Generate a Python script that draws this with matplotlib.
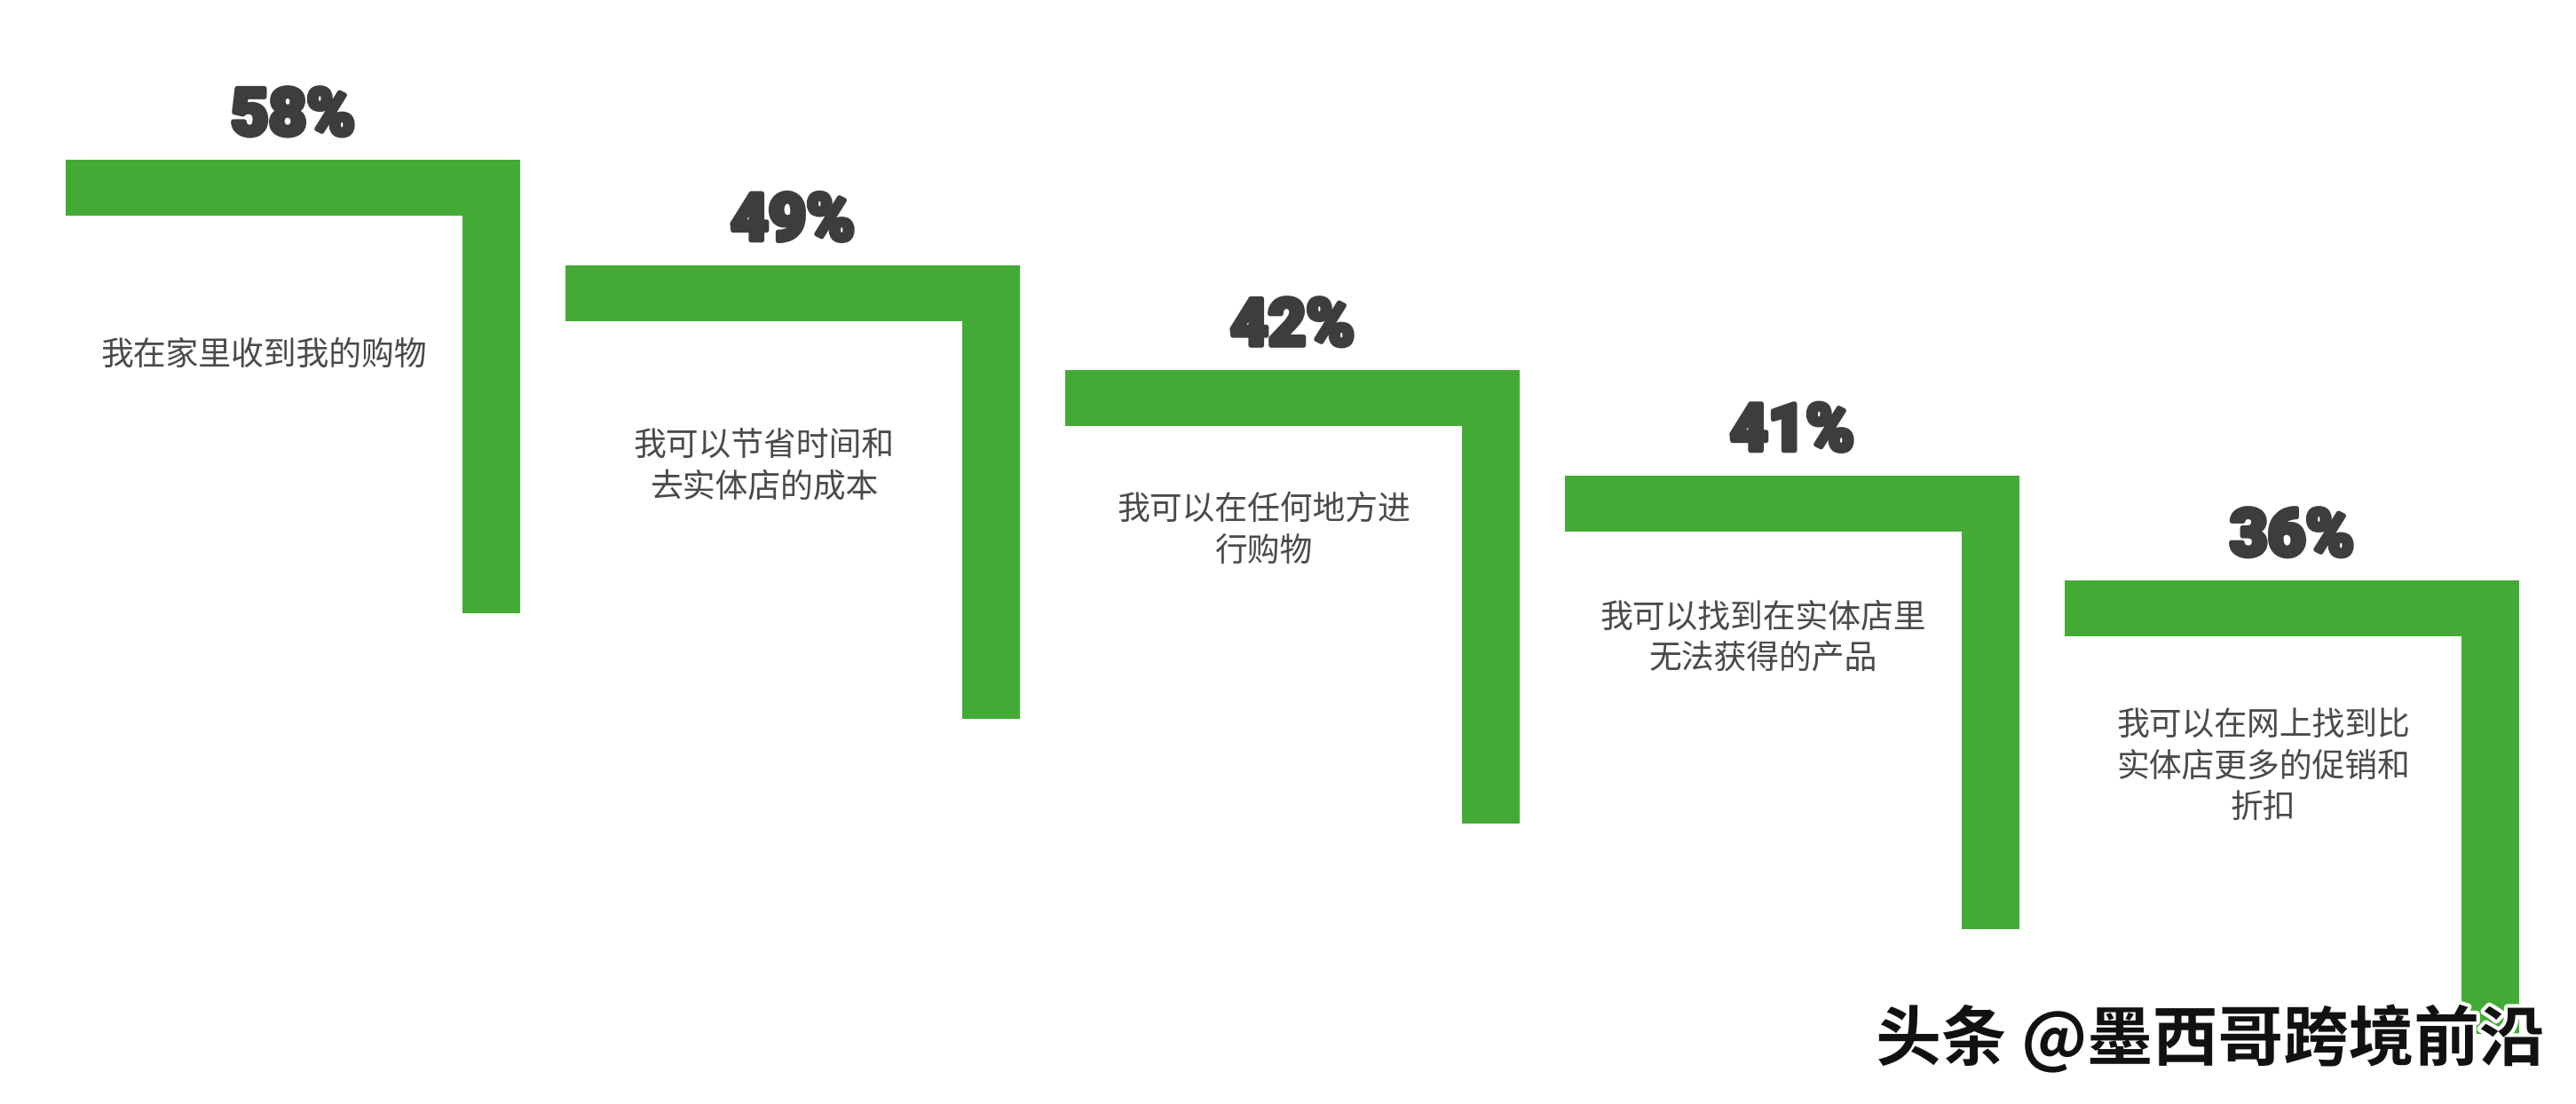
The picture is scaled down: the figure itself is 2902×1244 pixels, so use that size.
import matplotlib
matplotlib.use('Agg')
import matplotlib.pyplot as plt
import matplotlib.patheffects as pe

plt.rcParams['font.family'] = ['Noto Sans CJK SC', 'DejaVu Sans']

# data
percents = [58, 49, 42, 41, 36]
labels = [
    '我在家里收到我的购物',
    '我可以节省时间和\n去实体店的成本',
    '我可以在任何地方进\n行购物',
    '我可以找到在实体店里\n无法获得的产品',
    '我可以在网上找到比\n实体店更多的促销和\n折扣',
]
watermark = '头条 @墨西哥跨境前沿'

# layout (pixel units of the 2902x1244 canvas)
W, H = 2902, 1244
x0, y0 = 74, 180
step_x, step_y = 563, 118.5
arm_w, arm_h = 512, 511
bar_t, bar_v = 63, 65
label_dy = [201, 184, 138, 141, 144]
green = '#43ab35'
pct_color = '#3d3d3d'

fig = plt.figure(figsize=(W / 100, H / 100), dpi=100)
ax = fig.add_axes([0, 0, 1, 1])
ax.set_xlim(0, W)
ax.set_ylim(H, 0)
ax.axis('off')

for i, (p, lab) in enumerate(zip(percents, labels)):
    left = x0 + step_x * i
    top = y0 + step_y * i
    # horizontal arm
    ax.bar(left, bar_t, width=arm_w, bottom=top, align='edge', color=green, linewidth=0)
    # vertical arm
    ax.bar(left + arm_w - bar_v, arm_h, width=bar_v, bottom=top, align='edge',
           color=green, linewidth=0)
    ax.text(left + arm_w / 2, top - 28, f'{p}%', ha='center', va='baseline',
            fontsize=53, fontweight='black', family=['Roboto', 'DejaVu Sans'],
            color=pct_color,
            path_effects=[pe.withStroke(linewidth=4, foreground=pct_color)])
    ax.text(left + (arm_w - bar_v) / 2, top + label_dy[i], lab, ha='center', va='top',
            fontsize=26.5, color='#4a4a4a', linespacing=1.25, multialignment='center')

ax.text(2490, 1172, watermark, ha='center', va='center', fontsize=53, color='#111111',
        fontweight='bold',
        path_effects=[pe.withSimplePatchShadow(offset=(2, -2), shadow_rgbFace='#999999', alpha=0.6),
                      pe.withStroke(linewidth=6, foreground='white')])

fig.savefig('out.png', dpi=100, facecolor='white')
